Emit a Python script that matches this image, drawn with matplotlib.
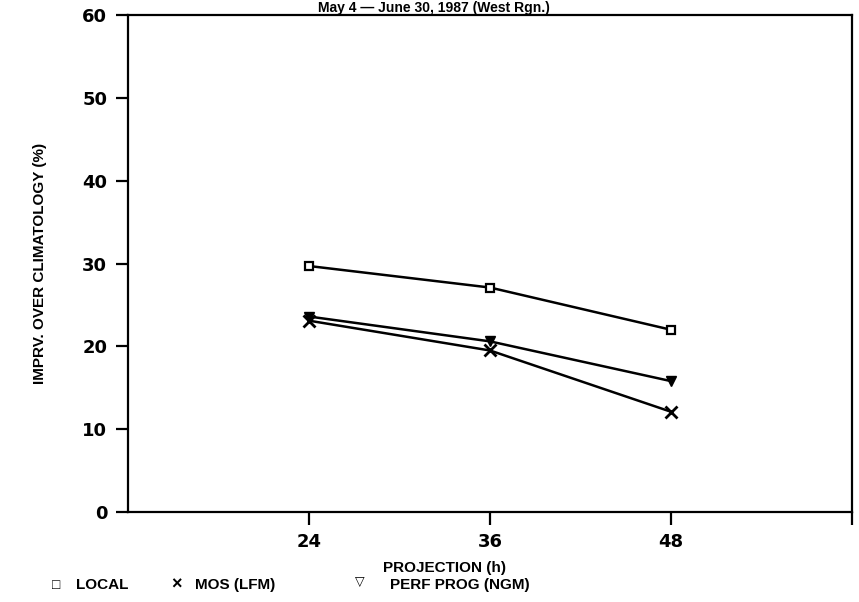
import matplotlib
matplotlib.use('Agg')
import matplotlib.pyplot as plt

# data
hours = [24, 36, 48]
local = [29.7, 27.1, 22.0]
mos_lfm = [23.1, 19.5, 12.1]
perf_prog = [23.6, 20.6, 15.8]

plt.rcParams['font.family'] = ['Liberation Sans', 'DejaVu Sans']
plt.rcParams['font.weight'] = 'bold'

fig = plt.figure(figsize=(8.59, 6.02), dpi=100)
ax = fig.add_axes([0.149, 0.1495, 0.843, 0.8255])

ax.plot(hours, local, color='black', lw=1.8, marker='s', ms=6,
        mfc='white', mec='black', mew=1.6)
ax.plot(hours, mos_lfm, color='black', lw=1.8, marker='x', ms=8, mew=2)
ax.plot(hours, perf_prog, color='black', lw=1.8, marker='v', ms=7,
        mfc='black', mec='black')

ax.set_xlim(12, 60)
ax.set_ylim(0, 60)
ax.set_xticks([24, 36, 48, 60])
ax.set_xticklabels(['24', '36', '48', ''])
ax.set_yticks(range(0, 61, 10))
for s in ax.spines.values():
    s.set_linewidth(1.6)
ax.tick_params(direction='out', length=9, width=1.6, pad=6)
for lab in ax.get_xticklabels() + ax.get_yticklabels():
    lab.set_family('DejaVu Sans')
    lab.set_fontweight('bold')
    lab.set_fontsize(13)

ax.set_ylabel('IMPRV. OVER CLIMATOLOGY (%)', fontsize=11, fontweight='bold',
              labelpad=25)

fig.text(0.518, 0.050, 'PROJECTION (h)', ha='center', fontsize=11,
         fontweight='bold')
fig.text(0.505, 0.999, 'May 4 \u2014 June 30, 1987 (West Rgn.)', ha='center',
         va='top', fontsize=10, fontweight='bold')

# legend row along the bottom
fig.text(0.060, 0.028, '\u25a1', fontsize=10, fontweight='bold', va='center')
fig.text(0.088, 0.028, 'LOCAL', fontsize=11, fontweight='bold', va='center')
fig.text(0.199, 0.028, '\u00d7', fontsize=13, fontweight='bold', va='center')
fig.text(0.227, 0.028, 'MOS (LFM)', fontsize=11, fontweight='bold', va='center')
fig.text(0.413, 0.034, '\u25bd', fontsize=9, fontweight='bold', va='center')
fig.text(0.454, 0.028, 'PERF PROG (NGM)', fontsize=11, fontweight='bold',
         va='center')

fig.savefig('out.png', dpi=100)
